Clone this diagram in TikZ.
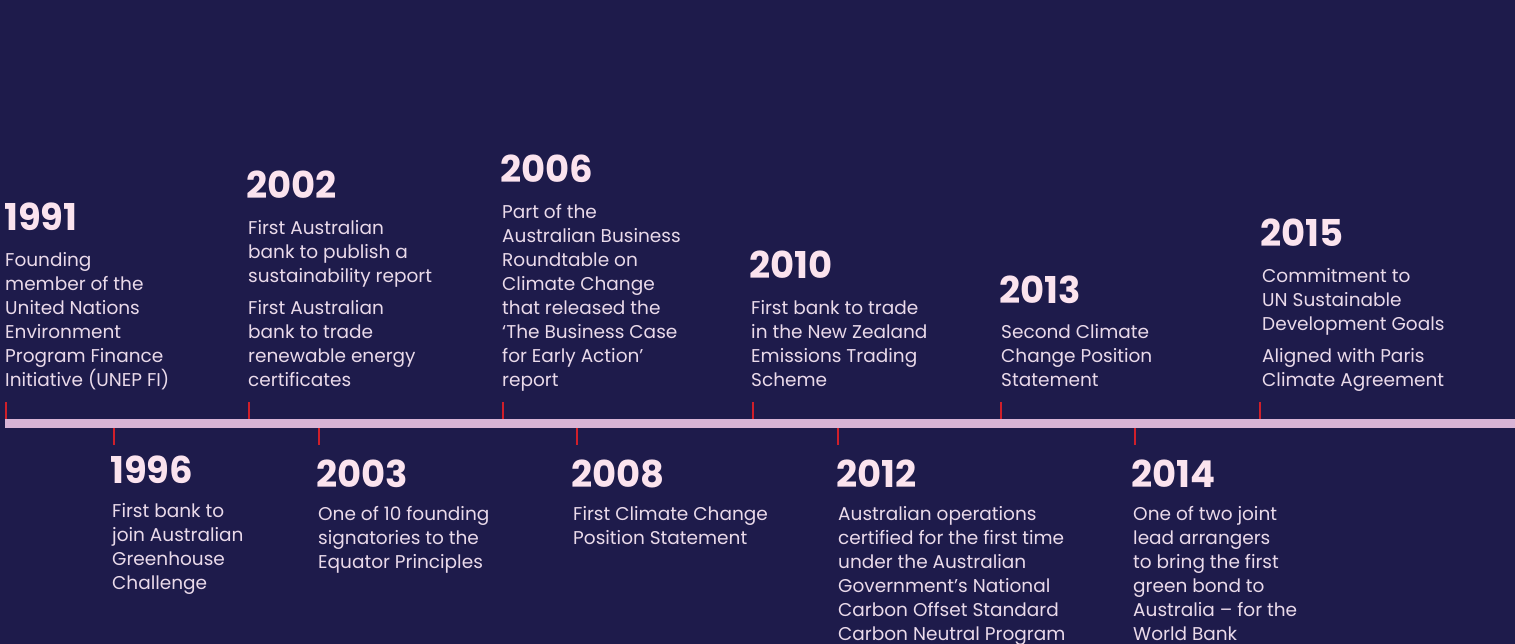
\documentclass[tikz,border=0pt]{standalone}
\usepackage{fontspec}
\setmainfont{Poppins}
\newfontfamily\yearfont{Poppins}[UprightFont=* Bold]
\definecolor{bgnavy}{HTML}{1E1B4B}
\definecolor{barpink}{HTML}{D8B4D6}
\definecolor{tickred}{HTML}{D01F2A}
\definecolor{yearpink}{HTML}{FBE3EE}
\definecolor{bodypink}{HTML}{EADAEA}
\tikzset{
  year/.style={anchor=base west, inner sep=0pt, text=yearpink, font=\yearfont\fontsize{37}{40}\selectfont},
  body/.style={anchor=base west, inner sep=0pt, align=left, text=bodypink, font=\fontsize{18.5}{24}\selectfont},
  tick/.style={draw=tickred, line width=2pt},
}
\begin{document}
\begin{tikzpicture}[x=1pt,y=-1pt]
\fill[bgnavy] (0,0) rectangle (1515,644);
\useasboundingbox (0,0) rectangle (1515,644);
% timeline bar
\fill[barpink] (5,419) rectangle (1515,428);
% upper ticks
\foreach \x in {6,249,503,753,1001,1260} \draw[tick] (\x,402) -- (\x,419);
% lower ticks
\foreach \x in {113.5,318.5,576.5,838,1134.5} \draw[tick] (\x,428) -- (\x,445);
% upper events (body anchored at baseline of its last line)
\node[year] (y1991) at (4,231) {1991};
\node[body] (t1991) at (5,386) {Founding\\member of the\\United Nations\\Environment\\Program Finance\\Initiative (UNEP FI)};
\node[year] (y2002) at (246,199) {2002};
\node[body] (t2002) at (248,386) {First Australian\\bank to publish a\\sustainability report\\[8pt]First Australian\\bank to trade\\renewable energy\\certificates};
\node[year] (y2006) at (500,183) {2006};
\node[body] (t2006) at (502,386) {Part of the\\Australian Business\\Roundtable on\\Climate Change\\that released the\\‘The Business Case\\for Early Action’\\report};
\node[year] (y2010) at (749,279) {2010};
\node[body] (t2010) at (751,386) {First bank to trade\\in the New Zealand\\Emissions Trading\\Scheme};
\node[year] (y2013) at (999,303) {2013};
\node[body] (t2013) at (1001,386) {Second Climate\\Change Position\\Statement};
\node[year] (y2015) at (1260,247) {2015};
\node[body] (t2015) at (1262,386) {Commitment to\\UN Sustainable\\Development Goals\\[8pt]Aligned with Paris\\Climate Agreement};
% lower events
\node[year] (y1996) at (110,483) {1996};
\node[body] (t1996) at (112,589) {First bank to\\join Australian\\Greenhouse\\Challenge};
\node[year] (y2003) at (316,487) {2003};
\node[body] (t2003) at (318,568) {One of 10 founding\\signatories to the\\Equator Principles};
\node[year] (y2008) at (571,487) {2008};
\node[body] (t2008) at (573,544) {First Climate Change\\Position Statement};
\node[year] (y2012) at (836,487) {2012};
\node[body] (t2012) at (838,640) {Australian operations\\certified for the first time\\under the Australian\\Government’s National\\Carbon Offset Standard\\Carbon Neutral Program};
\node[year] (y2014) at (1131,487) {2014};
\node[body] (t2014) at (1133,640) {One of two joint\\lead arrangers\\to bring the first\\green bond to\\Australia – for the\\World Bank};
\end{tikzpicture}
\end{document}
